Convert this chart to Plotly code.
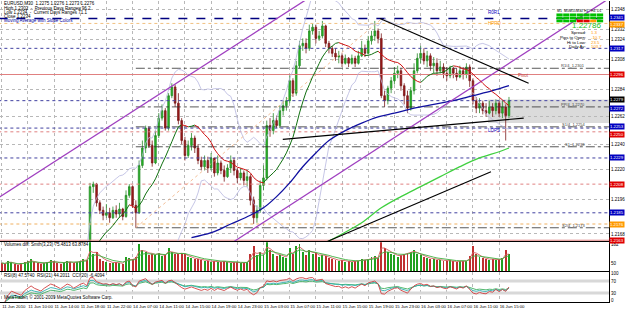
import numpy as np
import pandas as pd
import plotly.graph_objects as go

# ---------------- data ----------------
close = [1.2131,1.2127,1.2135,1.2142,1.2138,1.2130,1.2124,1.2133,1.2140,1.2146,1.2139,1.2135,1.2129,1.2136,1.2144,1.2150,1.2147,1.2141,1.2137,1.2143,1.2151,1.2148,1.2140,1.2145,1.2152,1.2156,1.2150,
 1.2206,1.2208,1.2193,1.2187,1.2183,1.2185,1.2181,1.2187,1.2184,1.2188,1.2182,1.2199,1.2206,1.2191,1.2185,1.2223,1.2237,1.2253,1.2239,1.2225,
 1.2247,1.2261,1.2267,1.2253,1.2279,1.2286,1.2273,1.2259,1.2243,1.2231,1.2239,1.2245,1.2237,1.2227,1.2222,1.2227,1.2221,1.2229,1.2217,1.2225,
 1.2219,1.2214,1.2221,1.2227,1.2219,1.2213,1.2217,1.2211,1.2214,1.2195,1.2181,1.2187,1.2207,1.2213,1.2255,1.2251,1.2259,1.2255,1.2267,1.2271,
 1.2275,1.2291,1.2281,1.2303,1.2319,1.2321,1.2317,1.2331,1.2334,1.2325,1.2327,1.2335,1.2321,1.2317,1.2313,1.2310,1.2311,1.2305,1.2309,1.2305,
 1.2309,1.2305,1.2311,1.2317,1.2313,1.2323,1.2327,1.2331,1.2325,1.2279,1.2275,1.2285,1.2291,1.2297,1.2299,1.2287,1.2279,1.2269,1.2283,1.2299,
 1.2309,1.2313,1.2307,1.2311,1.2303,1.2305,1.2299,1.2302,1.2297,1.2295,1.2301,1.2297,1.2294,1.2299,1.2296,1.2302,1.2291,1.2275,1.2269,1.2273,
 1.2267,1.2265,1.2270,1.2267,1.2273,1.2265,1.2270,1.2263,1.2275]
high = [1.2139,1.2134,1.2138,1.2145,1.2146,1.2140,1.2132,1.2136,1.2143,1.2149,1.2148,1.2141,1.2137,1.2139,1.2147,1.2153,1.2155,1.2149,1.2143,1.2146,1.2154,1.2155,1.2150,1.2148,1.2155,1.2159,1.2158,
 1.2209,1.2210,1.2209,1.2195,1.2190,1.2192,1.2189,1.2190,1.2191,1.2193,1.2189,1.2203,1.2208,1.2207,1.2195,1.2227,1.2243,1.2255,1.2254,1.2243,
 1.2251,1.2265,1.2272,1.2269,1.2281,1.2289,1.2288,1.2281,1.2261,1.2246,1.2243,1.2249,1.2247,1.2240,1.2230,1.2231,1.2230,1.2233,1.2227,1.2231,
 1.2227,1.2223,1.2224,1.2231,1.2229,1.2221,1.2221,1.2219,1.2219,1.2216,1.2198,1.2191,1.2211,1.2223,1.2259,1.2261,1.2265,1.2263,1.2271,1.2275,
 1.2278,1.2295,1.2293,1.2307,1.2323,1.2325,1.2325,1.2336,1.2337,1.2336,1.2331,1.2339,1.2336,1.2323,1.2319,1.2317,1.2315,1.2313,1.2312,1.2310,
 1.2312,1.2311,1.2315,1.2323,1.2320,1.2327,1.2331,1.2339,1.2333,1.2329,1.2283,1.2287,1.2294,1.2302,1.2303,1.2301,1.2289,1.2283,1.2286,1.2305,
 1.2313,1.2319,1.2317,1.2315,1.2313,1.2310,1.2309,1.2307,1.2305,1.2302,1.2303,1.2302,1.2301,1.2303,1.2302,1.2305,1.2304,1.2293,1.2278,1.2277,
 1.2275,1.2273,1.2275,1.2273,1.2276,1.2275,1.2275,1.2272,1.2278]
low = [1.2127,1.2122,1.2125,1.2132,1.2135,1.2127,1.2120,1.2122,1.2131,1.2138,1.2136,1.2132,1.2126,1.2127,1.2134,1.2142,1.2144,1.2138,1.2134,1.2135,1.2141,1.2145,1.2137,1.2138,1.2143,1.2150,1.2147,
 1.2148,1.2201,1.2190,1.2184,1.2179,1.2181,1.2177,1.2180,1.2181,1.2181,1.2179,1.2181,1.2197,1.2189,1.2173,1.2184,1.2221,1.2233,1.2237,1.2222,
 1.2224,1.2245,1.2259,1.2251,1.2251,1.2277,1.2270,1.2256,1.2240,1.2227,1.2229,1.2235,1.2233,1.2224,1.2219,1.2219,1.2217,1.2219,1.2214,1.2215,
 1.2216,1.2210,1.2213,1.2217,1.2215,1.2209,1.2211,1.2207,1.2206,1.2191,1.2176,1.2177,1.2185,1.2203,1.2211,1.2246,1.2248,1.2253,1.2253,1.2263,
 1.2267,1.2273,1.2278,1.2279,1.2301,1.2315,1.2313,1.2315,1.2328,1.2321,1.2323,1.2325,1.2318,1.2313,1.2310,1.2307,1.2305,1.2302,1.2304,1.2302,
 1.2304,1.2302,1.2304,1.2310,1.2310,1.2312,1.2320,1.2323,1.2321,1.2277,1.2270,1.2272,1.2281,1.2288,1.2293,1.2283,1.2272,1.2265,1.2267,1.2280,
 1.2297,1.2305,1.2304,1.2302,1.2299,1.2297,1.2295,1.2297,1.2293,1.2291,1.2293,1.2293,1.2291,1.2293,1.2292,1.2293,1.2286,1.2272,1.2265,1.2265,
 1.2264,1.2262,1.2264,1.2262,1.2264,1.2262,1.2261,1.2243,1.2261]
first_open = 1.2135
volume = [420,380,510,460,350,300,390,440,520,610,480,400,350,420,470,560,500,430,380,450,520,480,400,460,540,620,580,
 1500,900,980,620,540,480,430,390,450,420,380,700,650,600,720,
 1400,1100,1000,850,900,800,950,780,820,1200,980,900,860,940,880,
 700,650,620,600,560,520,540,480,500,460,480,520,440,420,460,480,400,430,450,
 900,1300,850,1000,800,1600,1100,900,760,820,700,680,
 1200,900,1300,1400,1000,850,1100,900,950,700,850,780,650,600,560,
 520,560,480,500,460,520,540,600,560,640,700,760,680,
 1700,1200,1000,900,850,700,800,900,950,1000,1100,900,800,700,680,
 620,600,560,580,540,520,560,500,480,520,500,540,760,
 1300,900,700,650,600,580,620,560,600,650,1100,900]

x_labels = ["11 Jun 2010","11 Jun 10:00","11 Jun 14:00","11 Jun 18:00","11 Jun 22:00","14 Jun 07:00",
            "14 Jun 11:00","14 Jun 15:00","14 Jun 19:00","14 Jun 23:00","15 Jun 03:00","15 Jun 07:00",
            "15 Jun 11:00","15 Jun 15:00","15 Jun 19:00","15 Jun 23:00","16 Jun 03:00","16 Jun 07:00",
            "16 Jun 11:00","16 Jun 15:00"]
price_ticks = [1.2348,1.2332,1.2324,1.2308,1.2284,1.2262,1.2240,1.2220,1.2196,1.2168]

# long moving averages (bar index, price)
ma100_idx = [58,64,70,76,80,84,88,92,96,100,105,110,115,120,126,132,138,144,150,155]
ma100_val = [1.2165,1.2169,1.2176,1.2183,1.2189,1.2198,1.2209,1.2222,1.2233,1.2243,1.2251,1.2257,1.2262,1.2265,1.2269,1.2272,1.2275,1.2279,1.2283,1.2287]
ma200_idx = [99,104,110,116,122,128,134,140,146,152,155]
ma200_val = [1.2161,1.2168,1.2177,1.2189,1.2198,1.2206,1.2214,1.2222,1.2229,1.2234,1.2237]

# drawn objects: (idx0, price0, idx1, price1)
black_lines = [(115.6,1.2341,161,1.2289),(85.9,1.2244,159.5,1.2261),(99.5,1.2162,149.5,1.2218)]
purple_lines = [(-1,1.2197,93,1.2356),(71,1.2162,185,1.2356)]
orange_trend = (41,1.2173,116.2,1.2341)

# horizontal levels: price, color, dash, width, start index
levels = [
 (1.2341,'#000080','dash',1.6,-1),
 (1.2337,'#f0c080','dot',1,-1),
 (1.2317,'#4040a0','dot',1,-1),
 (1.2301,'#303030','dashdot',0.8,41),
 (1.2296,'#e08080','solid',1,-1),
 (1.2275,'#4040a0','dot',1,-1),
 (1.2270,'#303030','dashdot',0.8,41),
 (1.2254,'#303030','dashdot',0.8,41),
 (1.2253,'#4040a0','dot',1,-1),
 (1.2250,'#e08080','dot',1,-1),
 (1.2238,'#303030','dashdot',0.8,41),
 (1.2229,'#4040a0','dot',1,-1),
 (1.2208,'#e08080','dot',1,-1),
 (1.2185,'#4040a0','dot',1,-1),
 (1.2176,'#f0b060','dot',1,-1),
 (1.2173,'#303030','dashdot',0.8,41),
 (1.2163,'#e08080','solid',1,-1),
]
axis_boxes = [(1.2342,'#0000c0','1.2341'),(1.2336,'#ff9900','1.2337'),(1.2317,'#0000c0','1.2317'),
              (1.2296,'#e00000','1.2296'),(1.2276,'#000000','1.2279'),(1.2269,'#0000c0','1.2272'),
              (1.2254,'#0000c0','1.2253'),(1.2248,'#e00000','1.2250'),(1.2229,'#0000c0','1.2229'),
              (1.2208,'#e00000','1.2208'),(1.2185,'#0000c0','1.2185'),(1.2176,'#ff9900','1.2176'),
              (1.2163,'#e00000','1.2163')]
level_texts = [(1.2303,'R1/4_1.2301'),(1.2272,'PP/4_1.2270'),(1.2256,'S1/4_1.2254'),(1.2240,'S1_1.2238'),(1.2175,'S2/4_1.2173')]

# ---------------- derived ----------------
n = len(close)
idx = np.arange(n)
open_ = [first_open] + close[:-1]
high = np.maximum(np.maximum(high, open_), close)
low = np.minimum(np.minimum(low, open_), close)
c = pd.Series(close)

ma = c.rolling(13).mean()
gx, gy, rx, ry = [], [], [], []
for i in range(1, n):
    if np.isnan(ma[i]) or np.isnan(ma[i-1]):
        continue
    if ma[i] >= ma[i-1]:
        gx += [i-1, i, None]; gy += [ma[i-1], ma[i], None]
    else:
        rx += [i-1, i, None]; ry += [ma[i-1], ma[i], None]
mid = c.rolling(20).mean(); sd = c.rolling(20).std(ddof=0)
bb_up = mid + 2*sd; bb_dn = mid - 2*sd

def rsi(s, p):
    d = s.diff()
    au = d.clip(lower=0).ewm(alpha=1/p, adjust=False).mean()
    ad = (-d.clip(upper=0)).ewm(alpha=1/p, adjust=False).mean()
    return 100*au/(au+ad)
rsi8 = rsi(c, 8); rsi14 = rsi(c, 14); rsi21 = rsi(c, 21)
v = pd.Series(volume, dtype=float)
vs1 = v.ewm(span=3).mean(); vs2 = v.ewm(span=7).mean()
vcol = ['#20a020' if close[i] >= open_[i] else '#c03030' for i in range(n)]

XR = [-0.5, -0.5 + 614/3.3]
W, H = 625, 314
PW, PH = 614, 302
def PX(px): return px/PW
def PY(py): return 1 - py/PH

fig = go.Figure()
for p, col, dash, w, s in levels:
    fig.add_trace(go.Scatter(x=[s, XR[1]+1], y=[p, p], mode='lines', line=dict(color=col, dash=dash, width=w),
                             hoverinfo='skip', showlegend=False))
fig.add_shape(type='rect', xref='x', yref='y', x0=148.6, x1=XR[1]+1, y0=1.2257, y1=1.2276,
              fillcolor='rgba(190,190,190,0.55)', line=dict(width=0), layer='below')
for b in (bb_up, bb_dn):
    fig.add_trace(go.Scatter(x=idx, y=b, mode='lines', line=dict(color='#b8b8e0', width=0.8), hoverinfo='skip', showlegend=False))
fig.add_trace(go.Scatter(x=ma100_idx, y=ma100_val, mode='lines', line=dict(color='#1010a0', width=1.3, shape='spline'), showlegend=False))
fig.add_trace(go.Scatter(x=ma200_idx, y=ma200_val, mode='lines', line=dict(color='#40d040', width=1.3, shape='spline'), showlegend=False))
for x0, y0, x1, y1 in purple_lines:
    fig.add_trace(go.Scatter(x=[x0, x1], y=[y0, y1], mode='lines', line=dict(color='#a040c0', width=1.3), showlegend=False))
x0, y0, x1, y1 = orange_trend
fig.add_trace(go.Scatter(x=[x0, x1], y=[y0, y1], mode='lines', line=dict(color='#f0b080', width=0.8, dash='dot'), showlegend=False))
fig.add_trace(go.Candlestick(x=idx, open=open_, high=high, low=low, close=close,
                             increasing=dict(line=dict(color='#2a8a2a', width=0.8), fillcolor='#22bb22'),
                             decreasing=dict(line=dict(color='#7a1a1a', width=0.8), fillcolor='#a01818'),
                             whiskerwidth=0, showlegend=False, hoverinfo='skip'))
fig.add_trace(go.Scatter(x=gx, y=gy, mode='lines', line=dict(color='#107010', width=1), showlegend=False))
fig.add_trace(go.Scatter(x=rx, y=ry, mode='lines', line=dict(color='#d01010', width=1), showlegend=False))
for x0, y0, x1, y1 in black_lines:
    fig.add_trace(go.Scatter(x=[x0, x1], y=[y0, y1], mode='lines', line=dict(color='#000000', width=1.2), showlegend=False))

# volume panel
fig.add_trace(go.Bar(x=idx, y=volume, marker=dict(color=vcol, line=dict(width=0)), width=0.3,
                     xaxis='x2', yaxis='y2', showlegend=False))
fig.add_trace(go.Scatter(x=idx, y=vs1, mode='lines', line=dict(color='#d06060', width=0.9), xaxis='x2', yaxis='y2', showlegend=False))
fig.add_trace(go.Scatter(x=idx, y=vs2, mode='lines', line=dict(color='#40b040', width=0.9), xaxis='x2', yaxis='y2', showlegend=False))

# rsi panel
for lv in (70, 30):
    fig.add_trace(go.Scatter(x=[XR[0], XR[1]+1], y=[lv, lv], mode='lines', line=dict(color='#d8d8d8', width=3),
                             xaxis='x3', yaxis='y3', showlegend=False))
fig.add_trace(go.Scatter(x=idx, y=rsi21, mode='lines', line=dict(color='#40b060', width=0.9), xaxis='x3', yaxis='y3', showlegend=False))
fig.add_trace(go.Scatter(x=idx, y=rsi14, mode='lines', line=dict(color='#30b0b0', width=0.9), xaxis='x3', yaxis='y3', showlegend=False))
fig.add_trace(go.Scatter(x=idx, y=rsi8, mode='lines', line=dict(color='#d04040', width=0.9), xaxis='x3', yaxis='y3', showlegend=False))

grid = dict(showgrid=True, gridcolor='#b8b8b8', griddash='dot', gridwidth=1)
tickpos = list(range(0, 8*len(x_labels), 8))
ymin = 1.2355 - 0.00008*241
fig.update_layout(
    width=W, height=H, margin=dict(l=0, r=11, t=0, b=12),
    paper_bgcolor='white', plot_bgcolor='white', showlegend=False, bargap=0,
    font=dict(family='Liberation Sans, Arial', size=6, color='black'),
    xaxis=dict(domain=[0, 1], range=XR, anchor='y', tickvals=tickpos, showticklabels=False, ticks='',
               showline=True, linecolor='black', linewidth=1, zeroline=False, rangeslider=dict(visible=False), **grid),
    xaxis2=dict(domain=[0, 1], range=XR, anchor='y2', matches='x', tickvals=tickpos, showticklabels=False, ticks='',
                showline=True, linecolor='black', linewidth=1, zeroline=False, **grid),
    xaxis3=dict(domain=[0, 1], range=XR, anchor='y3', matches='x', tickvals=tickpos, ticktext=x_labels,
                ticklabelposition='outside right', ticks='', tickangle=0, tickfont=dict(size=4.3), showline=True,
                linecolor='black', linewidth=1, zeroline=False, **grid),
    yaxis=dict(domain=[(302-241)/302, 1], range=[ymin, 1.2355], side='right', tickvals=price_ticks,
               ticktext=[f'{p:.4f}' for p in price_ticks], tickfont=dict(size=4.5), ticks='', showline=True,
               linecolor='black', linewidth=1, zeroline=False, **grid),
    yaxis2=dict(domain=[(302-271)/302, (302-242)/302], range=[0, 1500], side='right', tickvals=[420, 1380],
                ticktext=['50', '182'], tickfont=dict(size=4.5), ticks='', showline=True, linecolor='black',
                linewidth=1, zeroline=False, anchor='x2', showgrid=False),
    yaxis3=dict(domain=[0, (302-272)/302], range=[0, 100], side='right', tickvals=[6, 30, 70, 94],
                ticktext=['0', '30', '70', '100'], tickfont=dict(size=4.5), ticks='', showline=True,
                linecolor='black', linewidth=1, zeroline=False, anchor='x3', showgrid=False),
)

ann = []
def txt(x, y, s, size=5, color='black', xa='left', **kw):
    ann.append(dict(xref='paper', yref='paper', x=PX(x), y=PY(y), text=s, showarrow=False, xanchor=xa,
                    yanchor='middle', font=dict(size=size, color=color), **kw))
header = ["EURUSD,M30  1.2275 1.2276 1.2273 1.2276", "High 1.2302  -  Previous Days Ranges 96.2",
          "Low 1.2234  -  Current Days Ranges 71.1", "Close 1.2234"]
for k, s in enumerate(header):
    txt(2, 3 + 4.2*k, s, size=4.5)
txt(2, 19.5, "Moving Average with Slope Colors", size=4.5, color='#0000a0')
txt(2, 244.5, "Volumes diff: Smth(3,23) 75.4813 63.8784", size=4.5)
txt(2, 275, "RSI(8) 47.5740  RSI(21) 44.2011  CCI(20) -6.4094", size=4.5)
txt(2, 297, "MetaTrader, © 2001-2009 MetaQuotes Software Corp.", size=4.5)

tfs = ["M1", "M5", "M15", "M30", "H1", "H4", "D1"]
cols = [['#00c000']*7, ['#00c000']*7, ['#00c000', '#00c000', '#00c000', '#e00000', '#e00000', '#ff9900', '#00c000']]
shapes = []
for j, t in enumerate(tfs):
    cx = 561 + 6.8*j
    txt(cx + 3, 10, t, size=3.5, xa='center')
    for r in range(3):
        shapes.append(dict(type='rect', xref='paper', yref='paper', x0=PX(cx), x1=PX(cx+6.3),
                           y0=PY(12.5+3.1*r), y1=PY(15.2+3.1*r), fillcolor=cols[r][j], line=dict(width=0)))
txt(608, 24.5, "1.22786", size=8, color='#20c020', xa='right')
info = [("Spread:", "1.3"), ("Pips to Open:", "-10.7"), ("Hi to Low:", "23.5"), ("Daily Av:", "103.7")]
for k, (a, b) in enumerate(info):
    txt(593, 32 + 4.6*k, a, size=4.3, xa='right')
    txt(594, 32 + 4.6*k, b, size=4.3, color='#ff9900')

for p, col, s in axis_boxes:
    ann.append(dict(xref='paper', yref='y', x=1.0, y=p, text=s, showarrow=False, xanchor='left', yanchor='middle',
                    font=dict(size=4.3, color='white'), bgcolor=col, borderpad=0))
for p, s in level_texts:
    ann.append(dict(xref='paper', yref='y', x=PX(592), y=p, text=s, showarrow=False, xanchor='right',
                    yanchor='middle', font=dict(size=4, color='#404040')))
for p, s, col in [(1.2342, 'R0R1', '#0000c0'), (1.2337, 'HPRD', '#ff9900'), (1.2251, 'LOPS', '#0000c0'),
                  (1.2295, 'Pivot', '#c04040')]:
    ann.append(dict(xref='x', yref='y', x=148 if s != 'Pivot' else 157, y=p, text=s, showarrow=False,
                    xanchor='left', yanchor='bottom' if s in ('R0R1',) else 'middle', font=dict(size=4.5, color=col)))
fig.update_layout(annotations=ann, shapes=fig.layout.shapes + tuple(shapes))

fig.write_html("out.html")
